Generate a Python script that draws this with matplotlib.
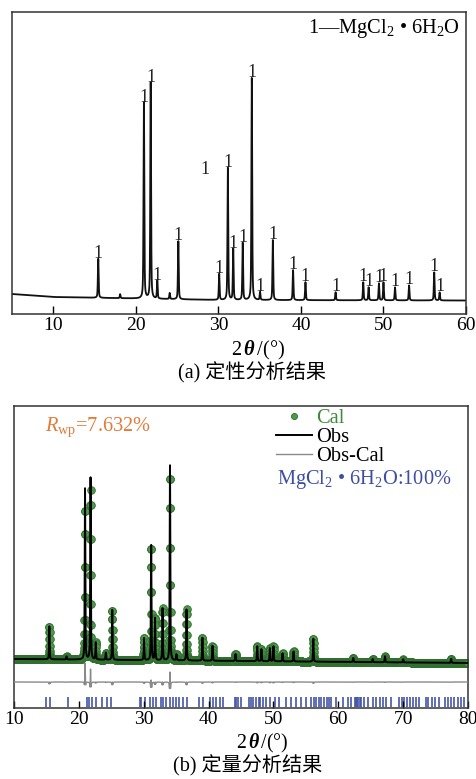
import numpy as np
import matplotlib.pyplot as plt

plt.rcParams['font.family'] = ['Liberation Serif', 'Noto Sans CJK SC']
plt.rcParams['mathtext.fontset'] = 'custom'
plt.rcParams['mathtext.rm'] = 'Liberation Serif'
plt.rcParams['mathtext.it'] = 'Liberation Serif:italic'
plt.rcParams['mathtext.bf'] = 'Liberation Serif:bold'
plt.rcParams['mathtext.bfit'] = 'Liberation Serif:italic:bold'

# (a) qualitative scan, MgCl2.6H2O reflections (2theta, height above background)
pos_a = [15.45, 20.98, 21.80, 22.60, 25.15, 30.10, 31.15, 31.80, 32.95, 34.05,
         35.05, 36.60, 39.05, 40.55, 44.20, 47.55, 48.20, 49.45, 50.00, 51.40,
         53.10, 56.15, 56.80]
height_a = [39, 196, 216, 18, 58, 26, 132, 51, 57, 222,
            8, 60, 30, 18, 8, 18, 13, 17, 18, 13,
            15, 28, 8]
minor_pos_a = [18.10, 24.10]
minor_height_a = [4, 6]
bg_x_a = [5, 10, 20, 30, 60]
bg_y_a = [20, 17, 15.5, 14, 13.5]
extra_label_a = (28.4, 140)

# (b) Rietveld refinement: observed / calculated heights above background
pos_b = [15.45, 18.10, 20.95, 21.80, 22.60, 24.15, 25.15, 30.05, 31.15, 31.75,
         32.90, 34.05, 35.05, 36.60, 39.05, 40.60, 44.15, 47.50, 48.15, 49.45,
         50.00, 51.40, 53.10, 56.15, 62.30, 65.30, 67.20, 70.00, 77.40]
obs_b = [33, 3, 171, 182, 17, 7, 50, 22, 115, 42,
         52, 195, 6, 51, 23, 15, 7, 15, 12, 13,
         15, 8, 10, 23, 4, 3, 6, 3, 4]
cal_b = [33, 3, 152, 169, 17, 7, 50, 22, 113, 42,
         52, 185, 6, 51, 23, 15, 7, 15, 12, 13,
         15, 8, 10, 23, 4, 3, 6, 3, 4]
bg_x_b = [10, 80]
bg_y_b = [49, 45]
diff_offset = 26
bragg_b = [14.9, 15.5, 18.35, 21.2, 21.6, 22.0, 22.6, 23.5, 24.3, 25.0,
           29.4, 29.6, 30.2, 30.9, 31.4, 31.95, 32.7, 33.0, 33.5, 34.0,
           34.5, 35.0, 35.4, 36.0, 36.6, 38.6, 39.1, 40.2, 40.7, 41.2,
           41.7, 42.2, 44.0, 44.3, 44.6, 45.0, 46.3, 46.6, 46.9, 47.3,
           47.7, 48.0, 48.4, 48.9, 49.4, 50.2, 50.9, 52.0, 52.7, 53.5,
           54.3, 55.0, 55.8, 56.2, 56.6, 57.0, 57.4, 57.8, 58.2, 58.6,
           58.9, 59.7, 60.7, 61.5, 62.0, 62.5, 62.7, 62.9, 63.1, 63.3,
           63.5, 64.0, 64.6, 65.3, 65.8, 66.4, 66.9, 67.4, 68.2, 69.4,
           69.8, 70.2, 70.6, 71.1, 71.5, 72.0, 72.5, 73.5, 73.9, 74.4,
           74.9, 75.6, 76.4, 76.9, 77.4, 77.9, 78.4, 78.9, 79.4]


def pseudo_voigt(x, centers, heights, fwhm, eta=0.5):
    y = np.zeros_like(x)
    for c, h in zip(centers, heights):
        d = (x - c) / (fwhm / 2)
        y += h * (eta / (1 + d ** 2) + (1 - eta) * np.exp(-np.log(2) * d ** 2))
    return y


fig = plt.figure(figsize=(4.76, 7.79), dpi=100)
W, H = 476, 779
FS = 14.7
XLABEL = r'2$\,\mathbfit{\theta}\,$/(°)'

# ---- (a) ----
ax1 = fig.add_axes([12 / W, 1 - 314 / H, 454 / W, 302 / H])
xa = np.arange(5, 60.0001, 0.005)
ya = np.interp(xa, bg_x_a, bg_y_a)
ya += pseudo_voigt(xa, pos_a, height_a, 0.11)
ya += pseudo_voigt(xa, minor_pos_a, minor_height_a, 0.11)
ax1.plot(xa, ya, color='#111111', lw=1.3)
for p, h in zip(pos_a, height_a):
    top = np.interp(p, bg_x_a, bg_y_a) + h
    ax1.text(p, top + 1, '1', ha='center', va='baseline', fontsize=13,
             color='#222222')
ax1.text(extra_label_a[0], extra_label_a[1], '1', ha='center', va='baseline',
         fontsize=13, color='#222222')
ax1.text(0.987, 0.947, r'1—MgCl$_2$ • 6H$_2$O', transform=ax1.transAxes,
         ha='right', va='center', fontsize=FS)
ax1.set_xlim(5, 60)
ax1.set_ylim(0, 302)
ax1.set_xticks([10, 20, 30, 40, 50, 60])
ax1.set_yticks([])
ax1.tick_params(axis='x', direction='in', length=6, width=1, labelsize=14,
                pad=2)
ax1.set_xlabel(XLABEL, fontsize=FS)
ax1.xaxis.set_label_coords(0.542, -0.084)
for s in ax1.spines.values():
    s.set_linewidth(1.1)
    s.set_color('#333333')

# ---- (b) ----
ax2 = fig.add_axes([14 / W, 1 - 708 / H, 454 / W, 302 / H])
xb_line = np.arange(10, 80.0001, 0.005)
xb_dots = np.arange(10, 80.0001, 0.02)
obs = np.interp(xb_line, bg_x_b, bg_y_b) + pseudo_voigt(xb_line, pos_b, obs_b, 0.11)
cal_line = np.interp(xb_line, bg_x_b, bg_y_b) + pseudo_voigt(xb_line, pos_b, cal_b, 0.12)
cal_dots = np.interp(xb_dots, bg_x_b, bg_y_b) + pseudo_voigt(xb_dots, pos_b, cal_b, 0.12)

ax2.plot(xb_dots, cal_dots, 'o', ms=5.5, mfc='#4f9a4a', mec='#2f6f2f',
         mew=0.6, label='Cal', zorder=2)
ax2.plot(xb_line, obs, color='black', lw=1.4, label='Obs', zorder=3)
ax2.plot(xb_line, obs - cal_line + diff_offset, color='#8a8a8a', lw=1.0,
         label='Obs-Cal', zorder=3)
ax2.vlines(bragg_b, 1, 11, color='#4455a8', lw=1.2, zorder=1)

leg = ax2.legend(loc='upper left', bbox_to_anchor=(0.577, 0.992), frameon=False,
                 fontsize=FS, handlelength=1.75, handletextpad=0.2,
                 borderpad=0, borderaxespad=0, labelspacing=0.0, numpoints=1,
                 markerscale=0.8, labelcolor=['#3f8a3a', 'black', 'black'])
ax2.text(0.579, 0.758, r'MgCl$_2$ • 6H$_2$O:100%', transform=ax2.transAxes,
         ha='left', va='center', fontsize=FS, color='#3e4fa3')
ax2.text(0.068, 0.93, r'$R_{\rm wp}$=7.632%', transform=ax2.transAxes,
         ha='left', va='center', fontsize=FS, color='#e07b3a')

ax2.set_xlim(10, 80)
ax2.set_ylim(0, 302)
ax2.set_xticks(range(10, 81, 10))
ax2.set_yticks([])
ax2.tick_params(axis='x', direction='in', length=5, width=1, labelsize=14,
                pad=2)
ax2.set_xlabel(XLABEL, fontsize=14.2)
ax2.xaxis.set_label_coords(0.546, -0.080)
for s in ax2.spines.values():
    s.set_linewidth(1.1)
    s.set_color('#333333')

fig.text(252 / W, 1 - 373 / H, '(a) 定性分析结果', ha='center', va='center',
         fontsize=14.5)
fig.text(248 / W, 1 - 766 / H, '(b) 定量分析结果', ha='center', va='center',
         fontsize=14.5)

fig.savefig('out.png', dpi=100)
